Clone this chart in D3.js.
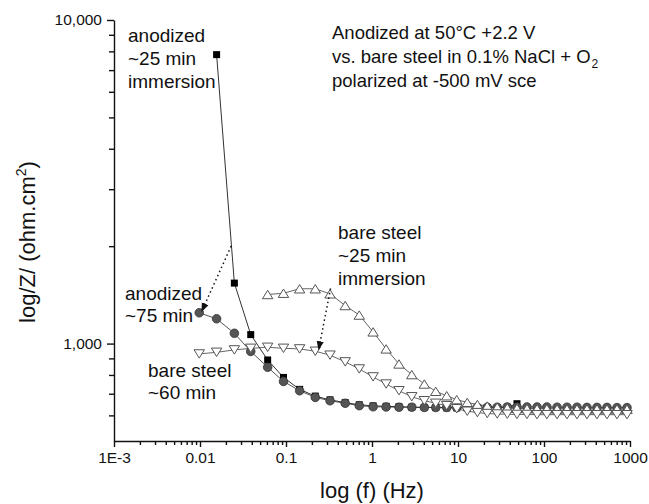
<!DOCTYPE html>
<html><head><meta charset="utf-8">
<script src="https://cdn.jsdelivr.net/npm/d3@7"></script>
<style>body{margin:0;background:#fff}svg{display:block}text{font-family:"Liberation Sans",Arial,sans-serif;fill:#111}</style>
</head><body><svg id="c" width="649" height="504"></svg>
<script>
// frequencies (Hz), shared grid
const freq = [0.0098, 0.0156, 0.0251, 0.0389, 0.0612, 0.0935, 0.144, 0.219, 0.325, 0.488, 0.711, 1.03, 1.46, 2.06, 2.90, 4.06, 5.51, 7.39, 9.66, 12.8, 16.8, 21.9, 28.6, 37.4, 48.5, 63.4, 83.0, 108, 142, 185, 242, 316, 413, 540, 706, 923];
// |Z| (ohm.cm2)
const anodized25 = [null, 7816, 1538, 1066, 890, 786, 722, 688, 670, 657, 647, 642, 640, 638, 636, 635, 634, 633, 633, 632, 632, 633, 634, 636, 652];
const anodized75 = [1245, 1193, 1076, 946, 845, 764, 715, 682, 666, 654, 643, 638, 637, 636, 636, 635, 635, 635, 635, 636, 636, 636, 636, 637, 637, 637, 637, 637, 636, 636, 636, 635, 635, 635, 634, 634];
const bare25 = [null, null, null, null, 1418, 1431, 1477, 1477, 1425, 1311, 1225, 1087, 963, 865, 802, 750, 712, 690, 671, 658, 648, 641, 636, 633, 631, 630, 629, 629, 628, 628, 628, 628, 628, 628, 628, 627];
const bare60 = [929, 940, 956, 967, 974, 967, 963, 947, 921, 878, 835, 789, 750, 715, 685, 666, 654, 643, 629, 618, 612, 608, 606, 605, 604, 604, 603, 603, 603, 603, 603, 603, 603, 603, 603, 603];
const xTickLabels = ["1E-3", "0.01", "0.1", "1", "10", "100", "1000"];
const xTickValues = [0.001, 0.01, 0.1, 1, 10, 100, 1000];
const yTickValues = [1000, 10000];
const yTickLabels = ["1,000", "10,000"];

const svg = d3.select("#c");
const x = d3.scaleLog().domain([0.001, 1000]).range([114, 630]);
const y = d3.scaleLog().domain([500, 10000]).range([441, 20]);

// minor ticks
const xMinor = [];
for (let e = -3; e < 3; e++) for (let k = 2; k <= 9; k++) xMinor.push(k * Math.pow(10, e));
const yMinor = [600, 700, 800, 900, 2000, 3000, 4000, 5000, 6000, 7000, 8000, 9000];

const gx = svg.append("g").attr("transform", "translate(0,441)");
gx.call(d3.axisBottom(x).tickValues(xMinor).tickSize(4).tickFormat(""));
gx.call(g => g.select(".domain").remove());
const gx2 = svg.append("g").attr("transform", "translate(0,441)");
gx2.call(d3.axisBottom(x).tickValues(xTickValues).tickSize(6).tickSizeOuter(0).tickPadding(5)
  .tickFormat((d, i) => xTickLabels[i]));
gx2.selectAll("text").attr("font-size", 15.5).attr("font-family", "Liberation Sans, Arial, sans-serif").attr("fill", "#111");

const gy = svg.append("g").attr("transform", "translate(114,0)");
gy.call(d3.axisLeft(y).tickValues(yMinor).tickSize(5).tickFormat(""));
gy.call(g => g.select(".domain").remove());
const gy2 = svg.append("g").attr("transform", "translate(114,0)");
gy2.call(d3.axisLeft(y).tickValues(yTickValues).tickSize(7).tickSizeOuter(0).tickPadding(5)
  .tickFormat((d, i) => yTickLabels[i]));
gy2.selectAll("text").attr("font-size", 15.5).attr("font-family", "Liberation Sans, Arial, sans-serif").attr("fill", "#111");
svg.selectAll("g line, g path.domain").attr("stroke", "#111").attr("stroke-width", 1.4);

function pts(arr) { return freq.map((f, i) => ({f, z: arr[i]})).filter(d => d.z != null && d.z !== undefined); }
const line = d3.line().x(d => x(d.f)).y(d => y(d.z));

const plot = svg.append("g");
// lines
plot.append("path").datum(pts(anodized75)).attr("d", line).attr("fill", "none").attr("stroke", "#555").attr("stroke-width", 1);
plot.append("path").datum(pts(bare25)).attr("d", line).attr("fill", "none").attr("stroke", "#666").attr("stroke-width", 1);
plot.append("path").datum(pts(bare60)).attr("d", line).attr("fill", "none").attr("stroke", "#666").attr("stroke-width", 1);
plot.append("path").datum(pts(anodized25)).attr("d", line).attr("fill", "none").attr("stroke", "#333").attr("stroke-width", 1);

// markers
plot.selectAll("rect.a25").data(pts(anodized25)).join("rect")
  .attr("x", d => x(d.f) - 3.5).attr("y", d => y(d.z) - 3.5).attr("width", 7).attr("height", 7)
  .attr("fill", "#000");
plot.selectAll("circle.a75").data(pts(anodized75)).join("circle")
  .attr("cx", d => x(d.f)).attr("cy", d => y(d.z)).attr("r", 4.3)
  .attr("fill", "#555").attr("stroke", "#333").attr("stroke-width", 0.8);
function tri(cx, cy, up) {
  const w = 5.2, h = 4.2;
  return up ? `M${cx},${cy - h}L${cx + w},${cy + h}L${cx - w},${cy + h}Z`
            : `M${cx},${cy + h}L${cx + w},${cy - h}L${cx - w},${cy - h}Z`;
}
plot.selectAll("path.b25").data(pts(bare25)).join("path").attr("class", "b25")
  .attr("d", d => tri(x(d.f), y(d.z), true)).attr("fill", "#fff").attr("stroke", "#555").attr("stroke-width", 1);
plot.selectAll("path.b60").data(pts(bare60)).join("path").attr("class", "b60")
  .attr("d", d => tri(x(d.f), y(d.z), false)).attr("fill", "#fff").attr("stroke", "#555").attr("stroke-width", 1);

// arrows (dotted)
const defs = svg.append("defs");
defs.append("marker").attr("id", "ah").attr("viewBox", "0 0 10 10").attr("refX", 9).attr("refY", 5)
  .attr("markerWidth", 6).attr("markerHeight", 6).attr("orient", "auto")
  .append("path").attr("d", "M0,1L10,5L0,9Z").attr("fill", "#111");
const arrows = [[0.023, 2000, 0.0105, 1260], [0.33, 1480, 0.24, 960]];
arrows.forEach(a => {
  svg.append("line").attr("x1", x(a[0])).attr("y1", y(a[1])).attr("x2", x(a[2])).attr("y2", y(a[3]))
    .attr("stroke", "#111").attr("stroke-width", 1.5).attr("stroke-dasharray", "1.5,3").attr("marker-end", "url(#ah)");
});

// annotations
function label(lines, lx, ly, lh, fs) {
  const t = svg.append("text").attr("x", lx).attr("y", ly).attr("font-size", fs);
  lines.forEach((l, i) => t.append("tspan").attr("x", lx).attr("y", ly + i * lh).text(l));
}
label(["anodized", "~25 min", "immersion"], 128, 42, 23, 19);
label(["bare steel", "~25 min", "immersion"], 338, 239, 23, 19);
label(["anodized", "~75 min"], 125, 300, 22, 19);
label(["bare steel", "~60 min"], 148, 377, 22, 19);

const t1 = svg.append("text").attr("x", 332).attr("y", 39).attr("font-size", 18.5);
t1.append("tspan").attr("x", 332).attr("y", 39).text("Anodized at 50°C +2.2 V");
const t2 = svg.append("text").attr("x", 332).attr("y", 63).attr("font-size", 18.5);
t2.append("tspan").text("vs. bare steel in 0.1% NaCl + O");
t2.append("tspan").attr("font-size", 12).attr("dy", 5).attr("dx", 1).text("2");
svg.append("text").attr("x", 332).attr("y", 87).attr("font-size", 18.5).text("polarized at -500 mV sce");

// axis titles
svg.append("text").attr("x", x(1)).attr("y", 498).attr("text-anchor", "middle").attr("font-size", 22).text("log (f) (Hz)");
const yt = svg.append("text").attr("transform", "translate(35,242) rotate(-90)").attr("text-anchor", "middle").attr("font-size", 22);
yt.append("tspan").text("log/Z/ (ohm.cm");
yt.append("tspan").attr("font-size", 14).attr("dy", -9).text("2");
yt.append("tspan").attr("dy", 9).text(")");
</script></body></html>
